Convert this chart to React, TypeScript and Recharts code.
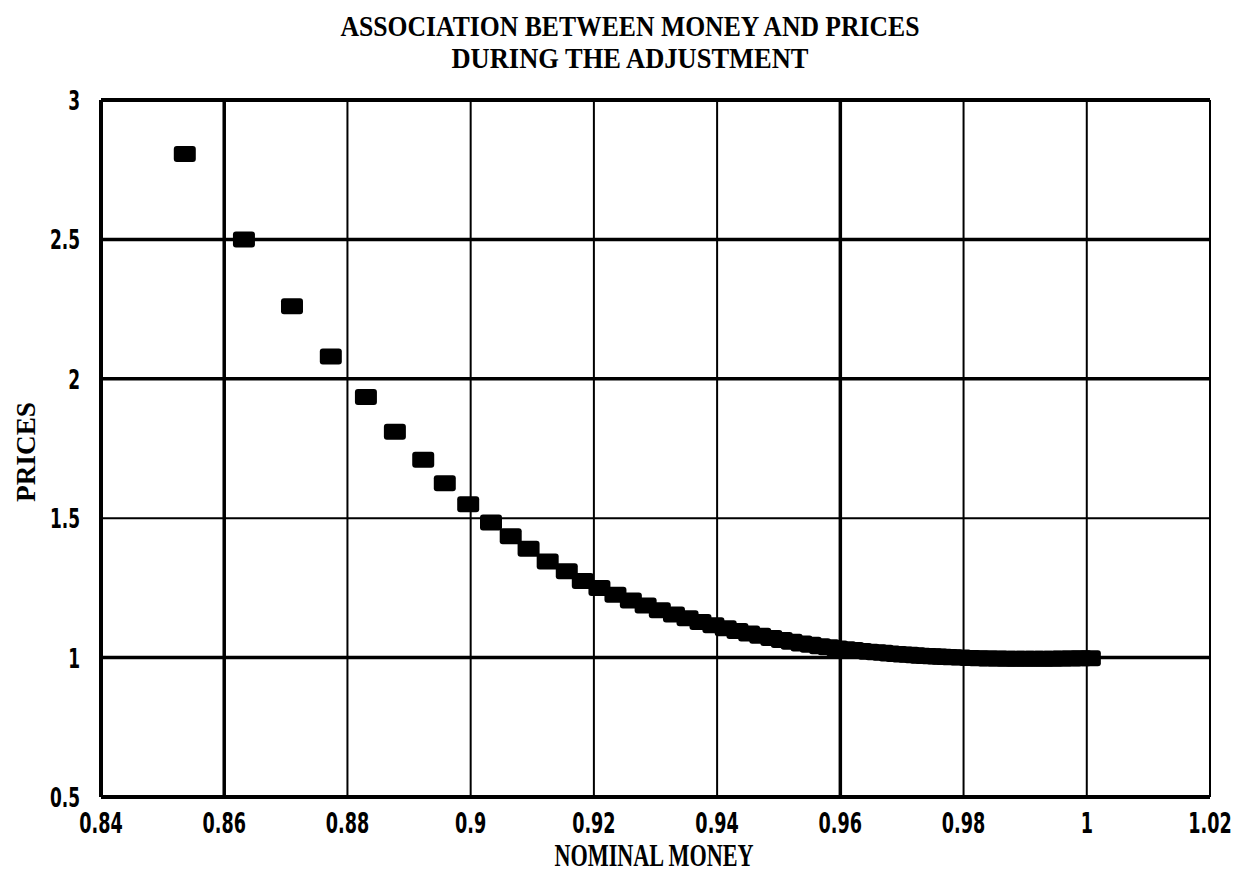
import React from 'react';
import {
  CartesianGrid,
  ReferenceLine,
  Scatter,
  ScatterChart,
  XAxis,
  YAxis,
} from 'recharts';

// nominal money (x) and prices (y), one pair per period
const money = [
  0.8536, 0.8632, 0.871, 0.8773, 0.883, 0.8877, 0.8923, 0.8958, 0.8996, 0.9033,
  0.9065, 0.9094, 0.9125, 0.9156, 0.9182, 0.9209, 0.9235, 0.926, 0.9284, 0.9307,
  0.933, 0.9352, 0.9373, 0.9394, 0.9414, 0.9433, 0.9452, 0.947, 0.9488, 0.9505,
  0.9521, 0.9537, 0.9552, 0.9567, 0.9581, 0.9595, 0.9608, 0.9621, 0.9634, 0.9646,
  0.9658, 0.9669, 0.968, 0.9691, 0.9701, 0.9711, 0.9721, 0.973, 0.9739, 0.9748,
  0.9757, 0.9765, 0.9773, 0.9781, 0.9795, 0.981, 0.9825, 0.984, 0.9855, 0.987,
  0.9885, 0.99, 0.9915, 0.993, 0.9945, 0.996, 0.9975, 0.999, 1.0005,
];
const prices = [
  2.806, 2.5, 2.26, 2.08, 1.935, 1.81, 1.71, 1.625, 1.55, 1.485,
  1.435, 1.39, 1.345, 1.31, 1.275, 1.25, 1.225, 1.205, 1.187, 1.17,
  1.155, 1.141, 1.128, 1.116, 1.105, 1.095, 1.086, 1.078, 1.07, 1.063,
  1.057, 1.051, 1.046, 1.041, 1.037, 1.033, 1.03, 1.027, 1.024, 1.021,
  1.019, 1.017, 1.015, 1.013, 1.011, 1.01, 1.008, 1.007, 1.006, 1.005,
  1.004, 1.003, 1.002, 1.001, 1.0, 0.999, 0.998, 0.997, 0.997, 0.996,
  0.996, 0.996, 0.996, 0.996, 0.996, 0.997, 0.997, 0.998, 0.998,
];

const xTicks = [0.84, 0.86, 0.88, 0.9, 0.92, 0.94, 0.96, 0.98, 1, 1.02];
const yTicks = [0.5, 1, 1.5, 2, 2.5, 3];
const titleLines = ['ASSOCIATION BETWEEN MONEY AND PRICES', 'DURING THE ADJUSTMENT'];
const xTitle = 'NOMINAL MONEY';
const yTitle = 'PRICES';

const data = money.map((m, i) => ({ m, p: prices[i] }));

const SANS = "'DejaVu Sans Condensed', 'Liberation Sans', sans-serif";
const SERIF = "'Liberation Serif', 'DejaVu Serif', serif";
const TICK_STYLE = { fontFamily: SANS, fontWeight: 700, fontSize: 28, fill: '#000' };

// tick labels are tall and narrow: squeeze them sideways
const XTick = (props: any) => {
  const { x, y, payload } = props;
  return (
    <text transform={`translate(${x},${y + 36}) scale(0.7,1)`} textAnchor="middle" style={TICK_STYLE}>
      {String(payload.value)}
    </text>
  );
};

const YTick = (props: any) => {
  const { x, y, payload } = props;
  return (
    <text transform={`translate(${x - 21},${y + 10}) scale(0.7,1)`} textAnchor="end" style={{ ...TICK_STYLE, fontSize: 27 }}>
      {String(payload.value)}
    </text>
  );
};

const Marker = (props: any) => {
  const { cx, cy } = props;
  if (cx == null || cy == null) return null;
  return <rect x={cx - 11} y={cy - 8} width={22} height={16} rx={3} fill="#000" />;
};

const TITLE_STYLE = { fontFamily: SERIF, fontWeight: 700, fontSize: 29, fill: '#000' };

export default function App() {
  return (
    <div style={{ position: 'absolute', left: 0, top: 0, width: 1237, height: 875, background: '#fff' }}>
      <ScatterChart width={1237} height={875} margin={{ top: 100, right: 27, bottom: 0, left: 0 }}>
        <CartesianGrid stroke="#000" strokeWidth={2} strokeOpacity={1} />
        <XAxis
          type="number"
          dataKey="m"
          domain={[0.84, 1.02]}
          ticks={xTicks}
          tick={<XTick />}
          tickSize={0}
          tickMargin={0}
          height={78}
          axisLine={{ stroke: '#000', strokeWidth: 4 }}
          allowDataOverflow
        />
        <YAxis
          type="number"
          dataKey="p"
          domain={[0.5, 3]}
          ticks={yTicks}
          tick={<YTick />}
          tickSize={0}
          tickMargin={0}
          width={101}
          axisLine={{ stroke: '#000', strokeWidth: 4 }}
        />
        <ReferenceLine y={3} stroke="#000" strokeWidth={4} />
        <ReferenceLine y={2.5} stroke="#000" strokeWidth={3.5} />
        <ReferenceLine y={2} stroke="#000" strokeWidth={3.5} />
        <ReferenceLine y={1} stroke="#000" strokeWidth={3.5} />
        <ReferenceLine x={0.86} stroke="#000" strokeWidth={3.5} />
        <ReferenceLine x={0.96} stroke="#000" strokeWidth={3.5} />
        <Scatter data={data} shape={Marker} isAnimationActive={false} />
      </ScatterChart>
      <svg width={1237} height={875} style={{ position: 'absolute', left: 0, top: 0, pointerEvents: 'none' }}>
        <text x={630} y={36} textAnchor="middle" textLength={579} lengthAdjust="spacingAndGlyphs" style={TITLE_STYLE}>
          {titleLines[0]}
        </text>
        <text x={630} y={68} textAnchor="middle" textLength={357} lengthAdjust="spacingAndGlyphs" style={TITLE_STYLE}>
          {titleLines[1]}
        </text>
        <text x={654} y={866} textAnchor="middle" textLength={199} lengthAdjust="spacingAndGlyphs"
          style={{ ...TITLE_STYLE, fontSize: 31 }}>
          {xTitle}
        </text>
        <text x={0} y={0} transform="translate(35,452) rotate(-90)" textAnchor="middle" textLength={100}
          lengthAdjust="spacingAndGlyphs" style={{ ...TITLE_STYLE, fontSize: 27 }}>
          {yTitle}
        </text>
      </svg>
    </div>
  );
}
